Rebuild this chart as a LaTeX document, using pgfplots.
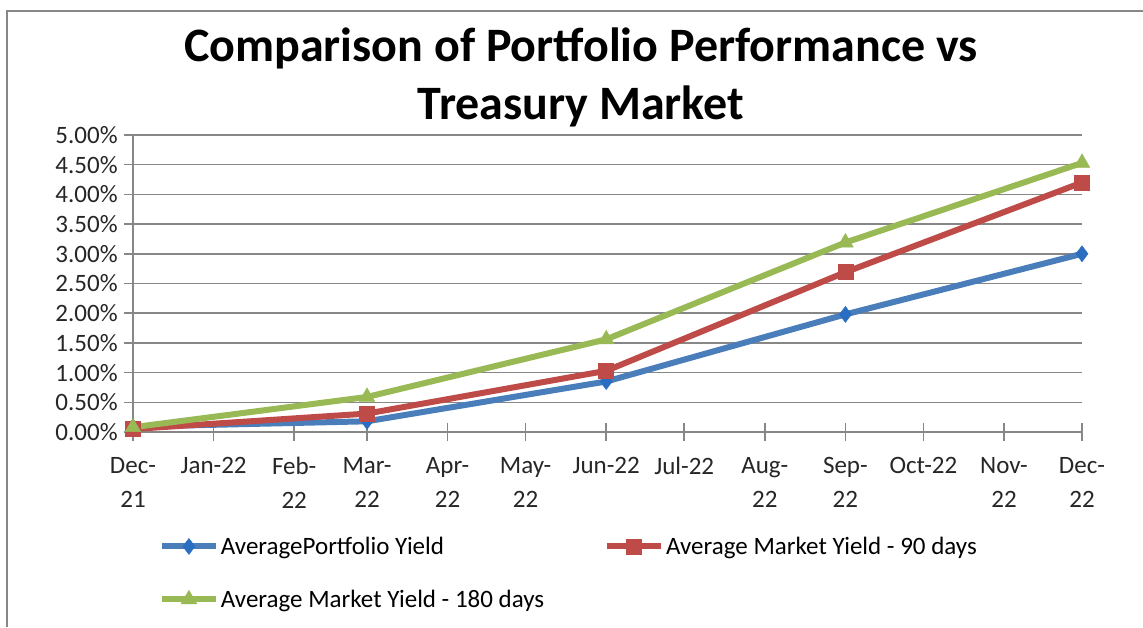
\documentclass[border=0pt]{standalone}
\usepackage{pgfplots}
\pgfplotsset{compat=1.18}
\usepackage{fontspec}
\setmainfont{Carlito}
\definecolor{cblue}{HTML}{4A7EBB}
\definecolor{cbluemark}{HTML}{2A6EC2}
\definecolor{cred}{HTML}{BE4B48}
\definecolor{cgreen}{HTML}{98B954}
\definecolor{gridgray}{HTML}{878787}
\begin{document}
\begin{tikzpicture}
\path[use as bounding box] (0pt,0pt) rectangle (1143pt,627pt);
\draw[gridgray, line width=1.5pt] (7pt,0pt) -- (7pt,616pt) -- (1143pt,616pt);
\node[font=\bfseries\fontsize{48}{58}\selectfont, align=center, anchor=center] at (581pt,550pt) {Comparison of Portfolio Performance vs\\Treasury Market};
\begin{axis}[
  at={(133pt,195pt)}, anchor=south west,
  scale only axis, width=949pt, height=297pt,
  xmin=0, xmax=365, ymin=0, ymax=5,
  axis x line*=bottom, axis y line*=left,
  axis line style={gridgray, line width=1.5pt, -},
  xtick={0,31,62,90,121,151,182,212,243,274,304,335,365},
  xticklabels={Dec-\\21,Jan-22,Feb-\\22,Mar-\\22,Apr-\\22,May-\\22,Jun-22,Jul-22,Aug-\\22,Sep-\\22,Oct-22,Nov-\\22,Dec-\\22},
  xticklabel style={align=center, font=\fontsize{25}{34}\selectfont, text=black!85, yshift=-10pt},
  ytick={0,0.5,...,5},
  yticklabel={\pgfmathprintnumber[fixed,fixed zerofill,precision=2]{\tick}\%},
  yticklabel style={font=\fontsize{25}{30}\selectfont, text=black!85},
  /pgf/number format/assume math mode=true,
  ymajorgrids, grid style={gridgray, line width=1.5pt},
  major tick length=18pt,
  x tick style={gridgray, line width=1.5pt},
  y tick style={gridgray, line width=1.5pt},
  xtick align=center, ytick align=center,
  legend columns=2,
  legend style={draw=none, fill=none, at={(0.021,-0.33)}, anchor=north west,
    font=\fontsize{25}{30}\selectfont, row sep=30pt,
    /tikz/column 2/.style={column sep=58pt}},
  legend cell align=left,
  legend image code/.code={\draw[mark repeat=2,mark phase=2,#1] plot coordinates {(0pt,0pt) (27pt,0pt) (54pt,0pt)};},
  line width=6pt,
  clip=false,
]
\addplot[cblue, mark=diamond*, mark size=8pt, mark options={fill=cbluemark, draw=cbluemark, line width=0.5pt}] coordinates {(0,0.09) (90,0.18) (182,0.85) (274,1.98) (365,3.00)};
\addlegendentry{AveragePortfolio Yield}
\addplot[cred, mark=square*, mark size=7.5pt, mark options={line width=0.5pt}] coordinates {(0,0.05) (90,0.31) (182,1.03) (274,2.69) (365,4.20)};
\addlegendentry{Average Market Yield - 90 days}
\addplot[cgreen, mark=triangle*, mark size=9pt, mark options={line width=0.5pt}] coordinates {(0,0.08) (90,0.59) (182,1.56) (274,3.19) (365,4.53)};
\addlegendentry{Average Market Yield - 180 days}
\end{axis}
\end{tikzpicture}
\end{document}
